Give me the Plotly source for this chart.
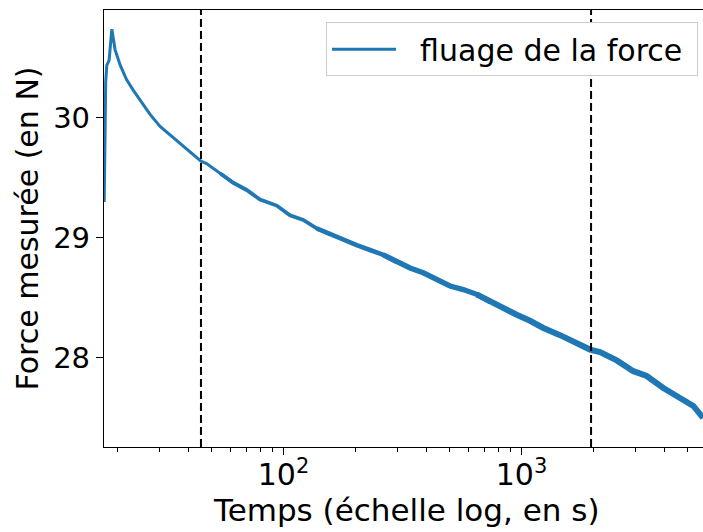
import plotly.graph_objects as go

# Creep test: measured force against time (log scale)
temps = [17.65, 17.9, 18.1, 18.5, 19.0, 19.6, 20.6, 21.9, 23.4, 24.9, 27.5, 30.3,
         33.3, 36.7, 40.5, 45.0, 47.5, 51.5, 54.1, 61.5, 70.0, 79.7, 93.6, 106.5,
         121.1, 137.8, 156.8, 164.6, 178.4, 203.0, 230.9, 262.6, 299.1, 340.2,
         386.5, 440.6, 500.7, 569.2, 648.4, 737.7, 839.0, 955.0, 1086, 1235,
         1452, 1706, 1941, 2138, 2512, 2951, 3357, 3944, 4634, 5272, 5796]
force = [29.30, 30.30, 30.44, 30.48, 30.74, 30.57, 30.44, 30.32, 30.23, 30.15,
         30.03, 29.93, 29.86, 29.79, 29.72, 29.64, 29.62, 29.57, 29.54, 29.46,
         29.40, 29.32, 29.27, 29.19, 29.15, 29.08, 29.03, 29.02, 28.99, 28.94,
         28.90, 28.86, 28.80, 28.75, 28.71, 28.65, 28.60, 28.57, 28.53, 28.47,
         28.42, 28.36, 28.31, 28.25, 28.19, 28.12, 28.07, 28.05, 27.98, 27.89,
         27.85, 27.75, 27.67, 27.60, 27.50]

# Time markers drawn as dashed verticals
reperes = [45, 1960]

x_ticks = [100, 1000]
x_ticktext = ["10<sup>2</sup>", "10<sup>3</sup>"]
x_minor = [20, 30, 40, 50, 60, 70, 80, 90, 200, 300, 400, 500, 600, 700, 800, 900,
           2000, 3000, 4000, 5000]
y_ticks = [28, 29, 30]

BLEU = "#1f77b4"
POLICE = "DejaVu Sans"

fig = go.Figure()

# The signal gets noisier with time: draw it with a band that widens gradually
segments = [(0, 20, 3.0), (18, 27, 3.8), (25, 33, 4.6), (31, 40, 5.3), (38, len(temps), 6.0)]
for i, (debut, fin, epaisseur) in enumerate(segments):
    fig.add_trace(go.Scatter(
        x=temps[debut:fin], y=force[debut:fin], mode="lines",
        line=dict(color=BLEU, width=epaisseur if i else 3.0),
        name="\u00a0\u00a0fluage de la force\u00a0", showlegend=(i == 0),
    ))

for t in reperes:
    fig.add_shape(type="line", xref="x", yref="paper", x0=t, x1=t, y0=0, y1=1,
                  line=dict(color="black", width=2, dash="8px,4px"))

fig.update_layout(
    width=703, height=532, autosize=False,
    margin=dict(l=104, r=0, t=10, b=85),
    paper_bgcolor="white", plot_bgcolor="white",
    font=dict(family=POLICE, size=30, color="black"),
    showlegend=True,
    legend=dict(
        x=0.9917, y=0.972, xanchor="right", yanchor="top",
        bgcolor="white", bordercolor="#cccccc", borderwidth=1,
        font=dict(family=POLICE, size=30, color="black"),
        itemwidth=64,
    ),
    xaxis=dict(
        type="log", range=[1.2458, 3.7626],
        tickvals=x_ticks, ticktext=x_ticktext,
        ticks="outside", ticklen=7, tickwidth=1.3, tickcolor="black",
        ticklabelstandoff=-6,
        minor=dict(tickvals=x_minor, ticks="outside", ticklen=4, tickwidth=1, tickcolor="black", showgrid=False),
        showline=True, linecolor="black", linewidth=1.3, mirror=True,
        showgrid=False, zeroline=False,
        tickfont=dict(family=POLICE, size=30, color="black"),
    ),
    yaxis=dict(
        range=[27.258, 30.9],
        tickvals=y_ticks,
        ticks="outside", ticklen=7, tickwidth=1.3, tickcolor="black",
        showline=True, linecolor="black", linewidth=1.3, mirror=False,
        showgrid=False, zeroline=False,
        tickfont=dict(family=POLICE, size=29, color="black"),
    ),
    annotations=[
        dict(text="Temps (échelle log, en s)", xref="paper", yref="paper",
             x=0.5058, y=-0.144, xanchor="center", yanchor="middle", showarrow=False,
             font=dict(family=POLICE, size=31, color="black")),
        dict(text="Force mesurée (en N)", xref="paper", yref="paper",
             x=-0.1269, y=0.5, xanchor="center", yanchor="middle", showarrow=False,
             textangle=-90, font=dict(family=POLICE, size=30, color="black")),
    ],
)

fig.write_html("out.html")
